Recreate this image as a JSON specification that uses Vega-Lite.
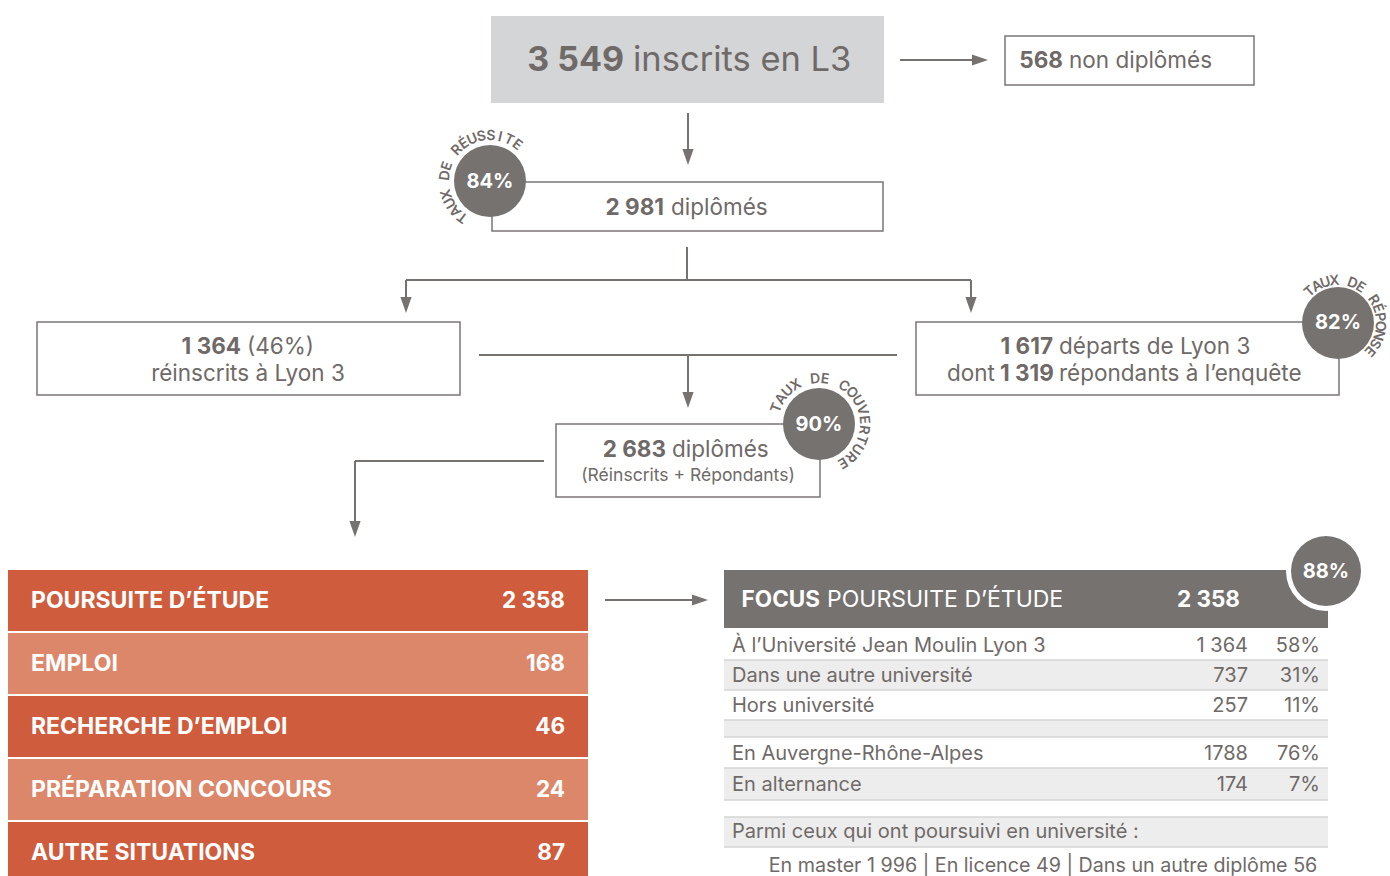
{
  "$schema": "https://vega.github.io/schema/vega-lite/v6.json",
  "width": 1390,
  "height": 876,
  "padding": 0,
  "autosize": {"type": "none"},
  "background": "white",
  "config": {"view": {"stroke": null}, "text": {"font": "Inter"}},
  "encoding": {
    "x": {"field": "x", "type": "quantitative", "scale": {"domain": [0, 1390], "nice": false, "zero": false}, "axis": null},
    "y": {"field": "y", "type": "quantitative", "scale": {"domain": [0, 876], "reverse": true, "nice": false, "zero": false}, "axis": null}
  },
  "layer": [
    {
      "data": {"values": [
        {"part": "top", "x": 491, "x2": 884, "y": 16, "y2": 103},
        {"part": "dark", "x": 8, "x2": 588, "y": 570, "y2": 631},
        {"part": "light", "x": 8, "x2": 588, "y": 633, "y2": 694},
        {"part": "dark", "x": 8, "x2": 588, "y": 696, "y2": 757},
        {"part": "light", "x": 8, "x2": 588, "y": 759, "y2": 820},
        {"part": "dark", "x": 8, "x2": 588, "y": 822, "y2": 876},
        {"part": "header", "x": 724, "x2": 1328, "y": 570, "y2": 628},
        {"part": "stripe", "x": 724, "x2": 1328, "y": 660, "y2": 690},
        {"part": "stripe", "x": 724, "x2": 1328, "y": 720, "y2": 737},
        {"part": "stripe", "x": 724, "x2": 1328, "y": 768, "y2": 800},
        {"part": "stripe", "x": 724, "x2": 1328, "y": 817, "y2": 847}
      ]},
      "mark": {"type": "rect", "strokeWidth": 0},
      "encoding": {
        "x2": {"field": "x2"},
        "y2": {"field": "y2"},
        "color": {"field": "part", "type": "nominal", "legend": null,
          "scale": {"domain": ["top", "dark", "light", "header", "stripe"], "range": ["#d4d5d7", "#cf5c3c", "#dd876a", "#767270", "#ededed"]}}
      }
    },
    {
      "data": {"values": [
        {"x": 724, "x2": 1328, "y": 660},
        {"x": 724, "x2": 1328, "y": 690},
        {"x": 724, "x2": 1328, "y": 720},
        {"x": 724, "x2": 1328, "y": 737},
        {"x": 724, "x2": 1328, "y": 768},
        {"x": 724, "x2": 1328, "y": 800},
        {"x": 724, "x2": 1328, "y": 817},
        {"x": 724, "x2": 1328, "y": 847}
      ]},
      "mark": {"type": "rule", "stroke": "#d4d4d4", "strokeWidth": 1.5},
      "encoding": {"x2": {"field": "x2"}}
    },
    {
      "data": {"values": [
        {"x": 1005, "x2": 1254, "y": 36, "y2": 85},
        {"x": 492, "x2": 883, "y": 182, "y2": 231},
        {"x": 37, "x2": 460, "y": 322, "y2": 395},
        {"x": 916, "x2": 1339, "y": 322, "y2": 395},
        {"x": 556, "x2": 820, "y": 424, "y2": 497}
      ]},
      "mark": {"type": "rect", "fill": "white", "stroke": "#7a7574", "strokeWidth": 1.5},
      "encoding": {"x2": {"field": "x2"}, "y2": {"field": "y2"}}
    },
    {
      "data": {"values": [
        {"x": 900, "x2": 978, "y": 60, "y2": 60},
        {"x": 688, "x2": 688, "y": 113, "y2": 155},
        {"x": 687, "x2": 687, "y": 247, "y2": 280},
        {"x": 406, "x2": 971, "y": 280, "y2": 280},
        {"x": 406, "x2": 406, "y": 280, "y2": 303},
        {"x": 971, "x2": 971, "y": 280, "y2": 303},
        {"x": 479, "x2": 897, "y": 355, "y2": 355},
        {"x": 688, "x2": 688, "y": 355, "y2": 398},
        {"x": 355, "x2": 544, "y": 461, "y2": 461},
        {"x": 355, "x2": 355, "y": 461, "y2": 527},
        {"x": 605, "x2": 698, "y": 600, "y2": 600}
      ]},
      "mark": {"type": "rule", "stroke": "#767270", "strokeWidth": 2},
      "encoding": {"x2": {"field": "x2"}, "y2": {"field": "y2"}}
    },
    {
      "data": {"values": [
        {"x": 688, "y": 157},
        {"x": 406, "y": 305},
        {"x": 971, "y": 305},
        {"x": 688, "y": 400},
        {"x": 355, "y": 529}
      ]},
      "mark": {"type": "point", "shape": "M-0.7,-1L0.7,-1L0,1Z", "size": 256, "filled": true, "color": "#767270", "opacity": 1, "strokeWidth": 0},
      "encoding": {}
    },
    {
      "data": {"values": [
        {"x": 980, "y": 60},
        {"x": 700, "y": 600}
      ]},
      "mark": {"type": "point", "shape": "M-1,-0.7L1,0L-1,0.7Z", "size": 256, "filled": true, "color": "#767270", "opacity": 1, "strokeWidth": 0},
      "encoding": {}
    },
    {
      "data": {"values": [{"x": 1326, "y": 571}]},
      "mark": {"type": "point", "shape": "circle", "size": 6400, "filled": true, "color": "white", "opacity": 1, "strokeWidth": 0},
      "encoding": {}
    },
    {
      "data": {"values": [
        {"x": 490, "y": 181},
        {"x": 1338, "y": 323},
        {"x": 819, "y": 424}
      ]},
      "mark": {"type": "point", "shape": "circle", "size": 5184, "filled": true, "color": "#767270", "opacity": 1, "strokeWidth": 0},
      "encoding": {}
    },
    {
      "data": {"values": [{"x": 1326, "y": 571}]},
      "mark": {"type": "point", "shape": "circle", "size": 4900, "filled": true, "color": "#767270", "opacity": 1, "strokeWidth": 0},
      "encoding": {}
    },
    {
      "data": {"values": [
        {"x": 624, "y": 61, "t": "3 549"}
      ]},
      "mark": {"type": "text", "align": "right", "baseline": "middle", "fontSize": 34, "fontWeight": "bold", "color": "#6f6a68"},
      "encoding": {"text": {"field": "t"}}
    },
    {
      "data": {"values": [
        {"x": 633, "y": 61, "t": "inscrits en L3"}
      ]},
      "mark": {"type": "text", "align": "left", "baseline": "middle", "fontSize": 34.5, "color": "#6f6a68"},
      "encoding": {"text": {"field": "t"}}
    },
    {
      "data": {"values": [
        {"x": 1063, "y": 61, "t": "568"},
        {"x": 664, "y": 208, "t": "2 981"},
        {"x": 241, "y": 347, "t": "1 364"},
        {"x": 1053, "y": 347, "t": "1 617"},
        {"x": 666, "y": 450, "t": "2 683"}
      ]},
      "mark": {"type": "text", "align": "right", "baseline": "middle", "fontSize": 22.5, "fontWeight": "bold", "color": "#6f6a68"},
      "encoding": {"text": {"field": "t"}}
    },
    {
      "data": {"values": [
        {"x": 1069, "y": 61, "t": "non diplômés"},
        {"x": 671, "y": 208, "t": "diplômés"},
        {"x": 247, "y": 347, "t": "(46%)"},
        {"x": 1059, "y": 347, "t": "départs de Lyon 3"},
        {"x": 1059, "y": 374, "t": "répondants à l’enquête"},
        {"x": 672, "y": 450, "t": "diplômés"}
      ]},
      "mark": {"type": "text", "align": "left", "baseline": "middle", "fontSize": 22.5, "color": "#6f6a68"},
      "encoding": {"text": {"field": "t"}}
    },
    {
      "data": {"values": [
        {"x": 248, "y": 374, "t": "réinscrits à Lyon 3"}
      ]},
      "mark": {"type": "text", "align": "center", "baseline": "middle", "fontSize": 22.5, "color": "#6f6a68"},
      "encoding": {"text": {"field": "t"}}
    },
    {
      "data": {"values": [
        {"x": 995, "y": 374, "t": "dont"}
      ]},
      "mark": {"type": "text", "align": "right", "baseline": "middle", "fontSize": 22.5, "color": "#6f6a68"},
      "encoding": {"text": {"field": "t"}}
    },
    {
      "data": {"values": [
        {"x": 1027, "y": 374, "t": "1 319"}
      ]},
      "mark": {"type": "text", "align": "center", "baseline": "middle", "fontSize": 22.5, "fontWeight": "bold", "color": "#6f6a68"},
      "encoding": {"text": {"field": "t"}}
    },
    {
      "data": {"values": [
        {"x": 688, "y": 476, "t": "(Réinscrits + Répondants)"}
      ]},
      "mark": {"type": "text", "align": "center", "baseline": "middle", "fontSize": 17.5, "color": "#6f6a68"},
      "encoding": {"text": {"field": "t"}}
    },
    {
      "data": {"values": [
        {"x": 490, "y": 182, "t": "84%"},
        {"x": 1338, "y": 323, "t": "82%"},
        {"x": 819, "y": 425, "t": "90%"},
        {"x": 1326, "y": 572, "t": "88%"}
      ]},
      "mark": {"type": "text", "align": "center", "baseline": "middle", "fontSize": 20, "fontWeight": "bold", "color": "white"},
      "encoding": {"text": {"field": "t"}}
    },
    {
      "data": {"values": [
        {"c": "T", "x": 462.9, "y": 216.9, "a": -143},
        {"c": "A", "x": 456.0, "y": 210.5, "a": -131},
        {"c": "U", "x": 450.6, "y": 202.8, "a": -119},
        {"c": "X", "x": 447.0, "y": 194.2, "a": -107},
        {"c": "D", "x": 445.3, "y": 175.5, "a": -83},
        {"c": "E", "x": 447.4, "y": 166.3, "a": -71},
        {"c": "R", "x": 457.1, "y": 150.3, "a": -47},
        {"c": "É", "x": 464.2, "y": 144.1, "a": -35},
        {"c": "U", "x": 472.4, "y": 139.6, "a": -23},
        {"c": "S", "x": 481.4, "y": 136.8, "a": -11},
        {"c": "S", "x": 490.8, "y": 136.0, "a": 1},
        {"c": "I", "x": 500.1, "y": 137.2, "a": 13},
        {"c": "T", "x": 509.0, "y": 140.2, "a": 25},
        {"c": "E", "x": 517.1, "y": 145.0, "a": 37},
        {"c": "T", "x": 1309.9, "y": 291.8, "a": -42},
        {"c": "A", "x": 1317.3, "y": 286.5, "a": -29.6},
        {"c": "U", "x": 1325.6, "y": 282.9, "a": -17.2},
        {"c": "X", "x": 1334.5, "y": 281.2, "a": -4.8},
        {"c": "D", "x": 1352.4, "y": 283.5, "a": 20},
        {"c": "E", "x": 1360.5, "y": 287.6, "a": 32.4},
        {"c": "R", "x": 1373.3, "y": 300.2, "a": 57.2},
        {"c": "É", "x": 1377.4, "y": 308.3, "a": 69.6},
        {"c": "P", "x": 1379.6, "y": 317.2, "a": 82},
        {"c": "O", "x": 1379.9, "y": 326.2, "a": 94.4},
        {"c": "N", "x": 1378.2, "y": 335.1, "a": 106.8},
        {"c": "S", "x": 1374.7, "y": 343.5, "a": 119.2},
        {"c": "E", "x": 1369.4, "y": 350.9, "a": 131.6},
        {"c": "T", "x": 777.0, "y": 407.9, "a": -69},
        {"c": "A", "x": 781.6, "y": 399.0, "a": -56.2},
        {"c": "U", "x": 788.1, "y": 391.3, "a": -43.4},
        {"c": "X", "x": 796.1, "y": 385.3, "a": -30.6},
        {"c": "D", "x": 815.1, "y": 379.2, "a": -5},
        {"c": "E", "x": 825.1, "y": 379.4, "a": 7.8},
        {"c": "C", "x": 843.8, "y": 386.4, "a": 33.4},
        {"c": "O", "x": 851.5, "y": 392.9, "a": 46.2},
        {"c": "U", "x": 857.6, "y": 400.8, "a": 59},
        {"c": "V", "x": 861.8, "y": 410.0, "a": 71.8},
        {"c": "E", "x": 863.8, "y": 419.8, "a": 84.6},
        {"c": "R", "x": 863.6, "y": 429.8, "a": 97.4},
        {"c": "T", "x": 861.2, "y": 439.5, "a": 110.2},
        {"c": "U", "x": 856.8, "y": 448.5, "a": 123},
        {"c": "R", "x": 850.4, "y": 456.3, "a": 135.8},
        {"c": "E", "x": 842.4, "y": 462.4, "a": 148.6}
      ]},
      "mark": {"type": "text", "align": "center", "baseline": "middle", "fontSize": 14, "fontWeight": 600, "color": "#6f6a68"},
      "encoding": {"text": {"field": "c"}, "angle": {"field": "a", "type": "quantitative", "scale": null}}
    },
    {
      "data": {"values": [
        {"x": 31, "y": 601, "t": "POURSUITE D’ÉTUDE"},
        {"x": 31, "y": 664, "t": "EMPLOI"},
        {"x": 31, "y": 727, "t": "RECHERCHE D’EMPLOI"},
        {"x": 31, "y": 790, "t": "PRÉPARATION CONCOURS"},
        {"x": 31, "y": 853, "t": "AUTRE SITUATIONS"}
      ]},
      "mark": {"type": "text", "align": "left", "baseline": "middle", "fontSize": 23, "fontWeight": "bold", "color": "white"},
      "encoding": {"text": {"field": "t"}}
    },
    {
      "data": {"values": [
        {"x": 565, "y": 601, "t": "2 358"},
        {"x": 565, "y": 664, "t": "168"},
        {"x": 565, "y": 727, "t": "46"},
        {"x": 565, "y": 790, "t": "24"},
        {"x": 565, "y": 853, "t": "87"},
        {"x": 820, "y": 600, "t": "FOCUS"},
        {"x": 1240, "y": 600, "t": "2 358"}
      ]},
      "mark": {"type": "text", "align": "right", "baseline": "middle", "fontSize": 22.5, "fontWeight": "bold", "color": "white"},
      "encoding": {"text": {"field": "t"}}
    },
    {
      "data": {"values": [
        {"x": 827, "y": 600, "t": "POURSUITE D’ÉTUDE"}
      ]},
      "mark": {"type": "text", "align": "left", "baseline": "middle", "fontSize": 23, "color": "white"},
      "encoding": {"text": {"field": "t"}}
    },
    {
      "data": {"values": [
        {"x": 732, "y": 646, "t": "À l’Université Jean Moulin Lyon 3"},
        {"x": 732, "y": 676, "t": "Dans une autre université"},
        {"x": 732, "y": 706, "t": "Hors université"},
        {"x": 732, "y": 754, "t": "En Auvergne-Rhône-Alpes"},
        {"x": 732, "y": 785, "t": "En alternance"},
        {"x": 732, "y": 832, "t": "Parmi ceux qui ont poursuivi en université :"}
      ]},
      "mark": {"type": "text", "align": "left", "baseline": "middle", "fontSize": 20, "color": "#6f6a68"},
      "encoding": {"text": {"field": "t"}}
    },
    {
      "data": {"values": [
        {"x": 1248, "y": 646, "t": "1 364"},
        {"x": 1248, "y": 676, "t": "737"},
        {"x": 1248, "y": 706, "t": "257"},
        {"x": 1248, "y": 754, "t": "1788"},
        {"x": 1248, "y": 785, "t": "174"},
        {"x": 1320, "y": 646, "t": "58%"},
        {"x": 1320, "y": 676, "t": "31%"},
        {"x": 1320, "y": 706, "t": "11%"},
        {"x": 1320, "y": 754, "t": "76%"},
        {"x": 1320, "y": 785, "t": "7%"}
      ]},
      "mark": {"type": "text", "align": "right", "baseline": "middle", "fontSize": 20, "color": "#6f6a68"},
      "encoding": {"text": {"field": "t"}}
    },
    {
      "data": {"values": [
        {"x": 1043, "y": 866, "t": "En master 1 996 | En licence 49 | Dans un autre diplôme 56"}
      ]},
      "mark": {"type": "text", "align": "center", "baseline": "middle", "fontSize": 19.7, "color": "#6f6a68"},
      "encoding": {"text": {"field": "t"}}
    }
  ]
}
